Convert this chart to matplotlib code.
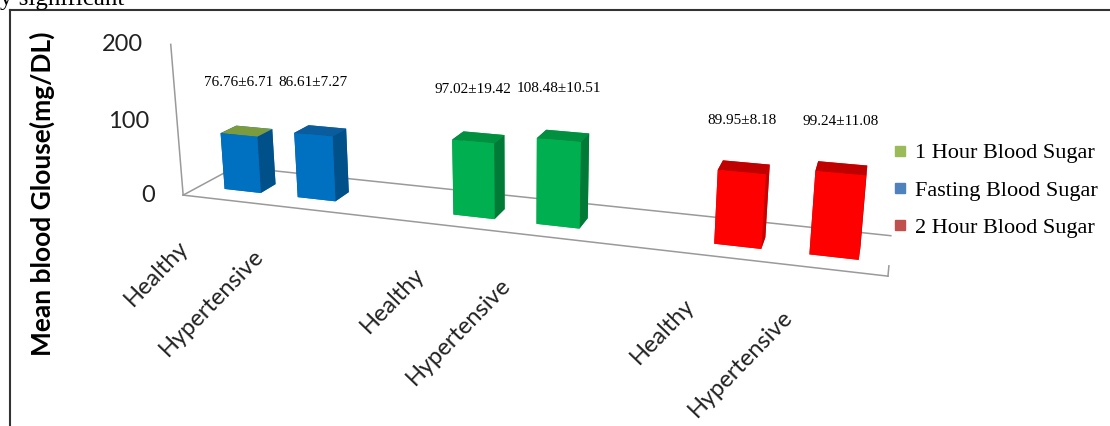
import matplotlib
matplotlib.use("Agg")
import matplotlib.pyplot as plt
from matplotlib.lines import Line2D
from mpl_toolkits.mplot3d import proj3d

# data
categories = ["Healthy", "Hypertensive", "Healthy", "Hypertensive", "Healthy", "Hypertensive"]
means = [76.76, 86.61, 97.02, 108.48, 89.95, 99.24]
sds = [6.71, 7.27, 19.42, 10.51, 8.18, 11.08]
bar_group = [0, 0, 1, 1, 2, 2]
legend_labels = ["1 Hour Blood Sugar", "Fasting Blood Sugar", "2 Hour Blood Sugar"]
z_ticks = [0, 100, 200]

# styles
front_cols = ["#0070C0", "#00B050", "#FF0000"]
side_cols = ["#00508A", "#007A36", "#C40000"]
top_cols = ["#7B9B3E", "#0B5C9C", "#009040", "#009040", "#C00000", "#C00000"]
legend_cols = ["#9BBB59", "#4F81BD", "#C0504D"]
calibri = ["Lato", "DejaVu Sans"]
times = ["Liberation Serif", "DejaVu Serif"]

W, H = 1110, 426
side = 1100  # 3d axes are square, make them big so nothing gets clipped
cx, cy = 505, 152
fig = plt.figure(figsize=(W / 100, H / 100), dpi=100)
ax = fig.add_axes([(cx - side / 2) / W, 1 - (cy + side / 2) / H, side / W, side / H],
                  projection="3d", computed_zorder=False)
ax.set_proj_type("persp", focal_length=0.2)
ax.view_init(elev=16, azim=-72)

xpos = [g * 3 + (i % 2) for i, g in enumerate(bar_group)]
x0, x1 = -0.6, max(xpos) + 0.55
ax.set_xlim(x0, x1)
ax.set_ylim(0, 1)
ax.set_zlim(0, 200)
ax.set_box_aspect((x1 - x0, 1.2, 1.85), zoom=0.66)
ax.set_axis_off()
M = ax.get_proj()


def to2d(x, y, z):
    px, py, _ = proj3d.proj_transform(x, y, z, M)
    return px, py


# floor + value axis
line_kw = dict(color="#9a9a9a", lw=1.1, zorder=1)
ax.plot([x0, x1], [0, 0], [0, 0], **line_kw)
ax.plot([x0, x1], [1, 1], [0, 0], **line_kw)
ax.plot([x0, x0], [0, 1], [0, 0], **line_kw)
ax.plot([x1, x1], [0, 0], [0, 12], **line_kw)
ax.plot([x0, x0], [0, 0], [0, 200], **line_kw)

for v in z_ticks:
    ax.annotate(str(v), to2d(x0, 0, v), xycoords="data", xytext=(-28, 0),
                textcoords="offset pixels", ha="right", va="center",
                fontsize=17, family=calibri, color="#222222")

# bars, left to right so nearer ones are drawn on top
bw, by, bd = 0.5, 0.3, 0.3
for i, (x, m) in enumerate(zip(xpos, means)):
    g = bar_group[i]
    f, s, t = front_cols[g], side_cols[g], top_cols[i]
    ax.bar3d(x - bw / 2, by, 0, bw, bd, m, color=[f, t, f, f, s, s],
             shade=False, zorder=2 + i)
    ax.annotate(f"{m:.2f}\u00b1{sds[i]:.2f}", to2d(x, by, m), xycoords="data",
                xytext=(0, 52), textcoords="offset pixels", ha="center", va="center",
                fontsize=11, family=times, zorder=20)
    ax.annotate(categories[i], to2d(x, 0, 0), xycoords="data", xytext=(-42, -44),
                textcoords="offset pixels", rotation=46, ha="right", va="center",
                rotation_mode="anchor", fontsize=17, family=calibri, color="#222222",
                zorder=20)

handles = [Line2D([], [], ls="none", marker="s", ms=7, color=c) for c in legend_cols]
fig.legend(handles, legend_labels, loc="center left", bbox_to_anchor=(0.793, 0.553),
           frameon=False, prop={"family": times, "size": 16}, labelspacing=0.75,
           handletextpad=0.15, handlelength=1.0, borderaxespad=0)

fig.text(0.0, 1 - 5 / H, "y significant", family=times, fontsize=18, va="baseline")
fig.add_artist(Line2D([10 / W, 1], [1 - 10 / H] * 2, color="#333333", lw=1.5))
fig.add_artist(Line2D([10 / W] * 2, [0, 1 - 10 / H], color="#333333", lw=1.5))
fig.text(0.038, 0.545, "Mean blood Glouse(mg/DL)", rotation=90, ha="center", va="center",
         fontsize=19, weight="bold", family=calibri)

fig.savefig("out.png", dpi=100)
